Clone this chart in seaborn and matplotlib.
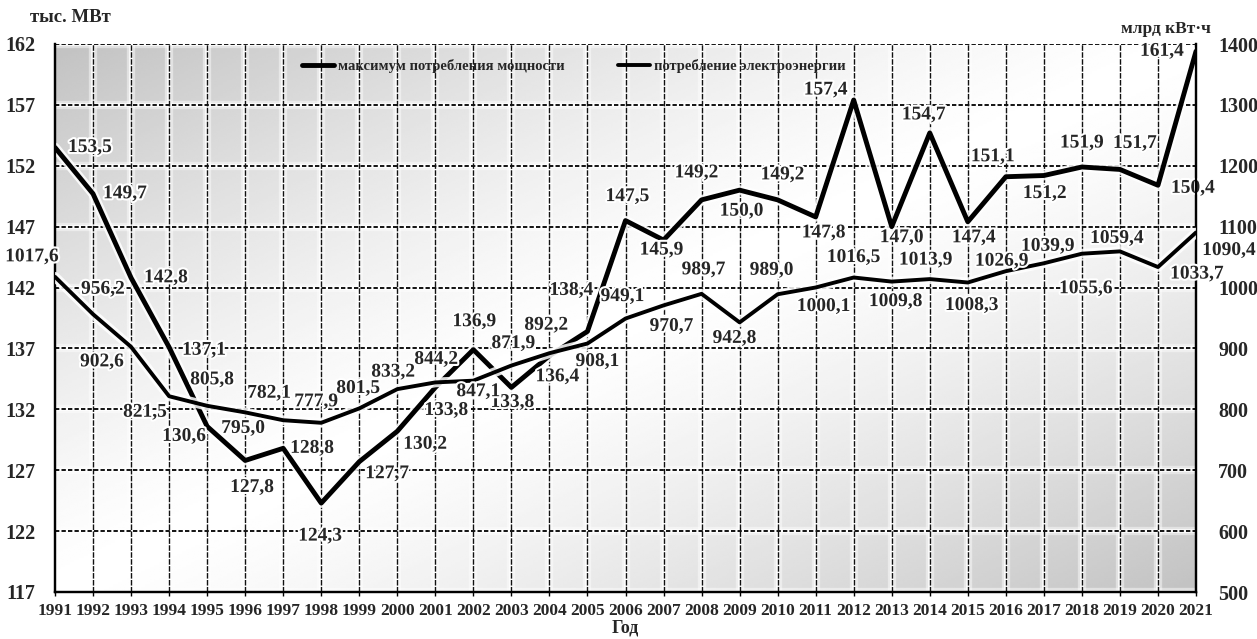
import numpy as np
import pandas as pd
import matplotlib
matplotlib.use("Agg")
import matplotlib.pyplot as plt
import matplotlib.patheffects as pe
from matplotlib.lines import Line2D
import seaborn as sns

# ---- data ----
years = list(range(1991, 2022))
peak_load = [153.5, 149.7, 142.8, 137.1, 130.6, 127.8, 128.8, 124.3, 127.7, 130.2,
             133.8, 136.9, 133.8, 136.4, 138.4, 147.5, 145.9, 149.2, 150.0, 149.2,
             147.8, 157.4, 147.0, 154.7, 147.4, 151.1, 151.2, 151.9, 151.7, 150.4, 161.4]
consumption = [1017.6, 956.2, 902.6, 821.5, 805.8, 795.0, 782.1, 777.9, 801.5, 833.2,
               844.2, 847.1, 871.9, 892.2, 908.1, 949.1, 970.7, 989.7, 942.8, 989.0,
               1000.1, 1016.5, 1009.8, 1013.9, 1008.3, 1026.9, 1039.9, 1055.6, 1059.4, 1033.7, 1090.4]
left_ticks = list(range(117, 163, 5))
right_ticks = list(range(500, 1401, 100))
series_names = ["максимум потребления мощности", "потребление электроэнергии"]

# label offsets from each point, in pixels (dx right, dy down)
peak_offsets = [(35, 0), (32, 0), (35, 0), (35, 3), (-23, 10), (7, 27), (29, 0), (-1, 33),
                (28, 12), (28, 13), (11, 23), (1, -28), (1, 15), (8, 21), (-16, -41),
                (2, -24), (-2, 10), (-5, -27), (2, 21), (5, -25), (8, 16), (-28, -10),
                (10, 11), (-6, -18), (6, 16), (-13, -20), (1, 18), (0, -24), (15, -26),
                (35, 3), (-34, 0)]
cons_offsets = [(-23, -20), (10, -25), (-29, 15), (-24, 16), (5, -26), (-2, 16), (-14, -27),
                (-5, -21), (-1, -20), (-4, -17), (1, -23), (5, 11), (2, -22), (-3, -28),
                (10, 18), (-3, -22), (8, 21), (2, -24), (-5, 16), (-6, -24), (8, 19),
                (0, -20), (4, 20), (-4, -19), (4, 23), (-4, -10), (4, -17), (4, 35),
                (-3, -13), (39, 7), (33, 18)]

df = pd.DataFrame({"year": years, "peak": peak_load, "energy": consumption})

sns.set_style("white")
plt.rcParams["font.family"] = ["Liberation Serif", "DejaVu Serif"]
plt.rcParams["font.weight"] = "bold"

W, H = 1257, 639
fig = plt.figure(figsize=(W / 100, H / 100), dpi=100)
L, R, T, B = 55, 1196, 44, 592
pos = [L / W, 1 - B / H, (R - L) / W, (B - T) / H]

# shaded background behind the plot area: dark in the top-left and bottom-right corners
bg = fig.add_axes(pos, zorder=-1)
u = np.linspace(0, 1, 500)
w = np.linspace(1, 0, 250)
U, Wv = np.meshgrid(u, w)
shade = 1 - 0.24 * np.abs(U - Wv) ** 1.3
bg.imshow(shade, cmap="gray", vmin=0, vmax=1, aspect="auto",
          extent=[0, 1, 0, 1], interpolation="bilinear")
bg.set_axis_off()

ax = fig.add_axes(pos)
ax.patch.set_alpha(0)
ax2 = ax.twinx()

ax.set_xlim(1991, 2021)
ax.set_ylim(117, 162)
ax2.set_ylim(500, 1400)

# grid with soft white halos
for y in left_ticks:
    ax.axhline(y, color="white", lw=6, alpha=0.45, zorder=1)
    ax.axhline(y, color="white", lw=3, alpha=0.75, zorder=1)
for x in years[1:-1]:
    ax.axvline(x, color="white", lw=6, alpha=0.45, zorder=1)
    ax.axvline(x, color="white", lw=3, alpha=0.75, zorder=1)
for y in left_ticks:
    ax.axhline(y, color="black", lw=1.3, ls=(0, (2.4, 1.2)), zorder=2)
for x in years[1:-1]:
    ax.axvline(x, color="#111111", lw=1.0, ls=(0, (4, 1)), zorder=2)

halo = [pe.Stroke(linewidth=7, foreground="white", alpha=0.85), pe.Normal()]
sns.lineplot(data=df, x="year", y="peak", ax=ax, color="black", lw=3.5, zorder=4)
ax.lines[-1].set_path_effects(halo)
sns.lineplot(data=df, x="year", y="energy", ax=ax2, color="black", lw=2.8, zorder=4)
ax2.lines[-1].set_path_effects(halo)

txt_halo = [pe.withStroke(linewidth=3, foreground="white")]

def fmt(v):
    return f"{v:.1f}".replace(".", ",")

for yr, v, (dx, dy) in zip(years, peak_load, peak_offsets):
    ax.annotate(fmt(v), (yr, v), xytext=(dx, -dy), textcoords="offset pixels",
                ha="center", va="center", fontsize=14, fontweight="bold",
                path_effects=txt_halo, zorder=6, annotation_clip=False)
for yr, v, (dx, dy) in zip(years, consumption, cons_offsets):
    ax2.annotate(fmt(v), (yr, v), xytext=(dx, -dy), textcoords="offset pixels",
                 ha="center", va="center", fontsize=14, fontweight="bold",
                 path_effects=txt_halo, zorder=6, annotation_clip=False)

# axes, ticks
ax.set_xticks(years)
ax.set_xticklabels([str(y) for y in years], fontsize=12.5, fontweight="bold")
ax.set_yticks(left_ticks)
ax.set_yticklabels([str(t) for t in left_ticks], fontsize=14.5, fontweight="bold")
ax2.set_yticks(right_ticks)
ax2.set_yticklabels([str(t) for t in right_ticks], fontsize=14.5, fontweight="bold")
ax.tick_params(axis="x", length=3, width=1, pad=5, color="black", bottom=True)
ax.tick_params(axis="y", length=0, pad=14)
ax2.tick_params(axis="y", length=0, pad=16)
ax.set_xlabel("Год", fontsize=13, fontweight="bold", labelpad=0)
ax.set_ylabel("")
ax2.set_ylabel("")

for a in (ax, ax2):
    a.spines["top"].set_visible(False)
    for s in ("left", "right", "bottom"):
        a.spines[s].set_color("black")
        a.spines[s].set_linewidth(1.6)
        a.spines[s].set_visible(True)

fig.text(30 / W, 1 - 18 / H, "тыс. МВт", fontsize=13.5, fontweight="bold",
         ha="left", va="center")
fig.text(1211 / W, 1 - 29 / H, "млрд кВт·ч", fontsize=12.5, fontweight="bold",
         ha="right", va="center")

handles = [Line2D([], [], color="black", lw=3.5), Line2D([], [], color="black", lw=2.8)]
leg = ax2.legend(handles, series_names, loc="center left", ncol=2, frameon=False,
                 bbox_to_anchor=((302 - L) / (R - L), (B - 66) / (B - T)),
                 borderaxespad=0, borderpad=0, handlelength=2.2, handletextpad=0.3,
                 columnspacing=3.6, prop={"size": 10.5, "weight": "bold"})

fig.savefig("out.png", dpi=100)
